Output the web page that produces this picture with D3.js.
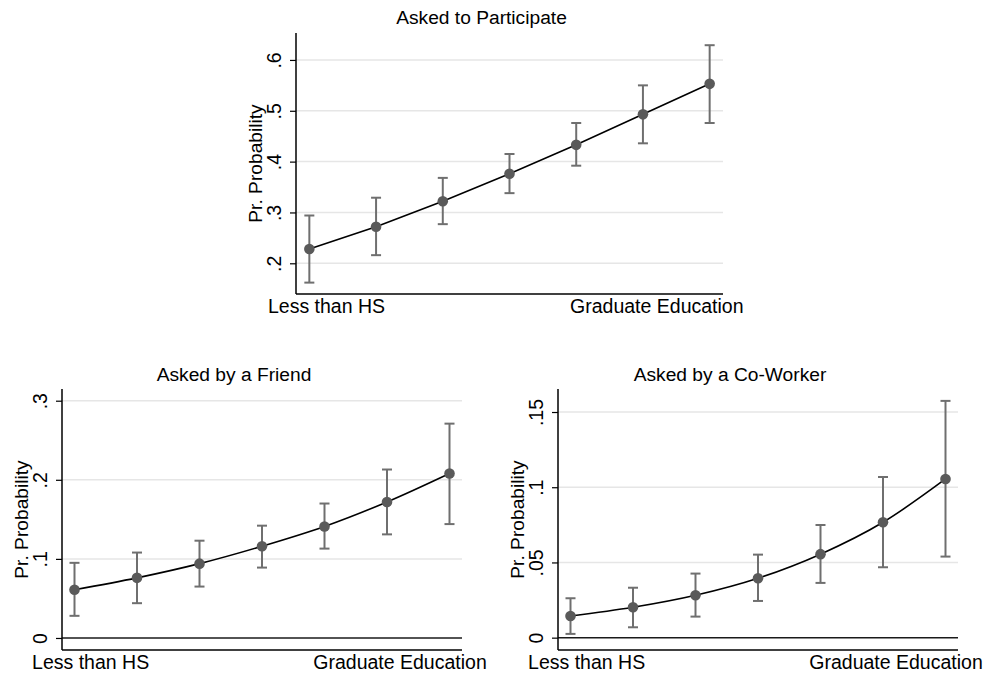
<!DOCTYPE html>
<html lang="en">
<head>
  <meta charset="UTF-8">
  <title>Predicted probability by education</title>
  <style>
    body { margin: 0; background: #ffffff; }
    #thesvg { width: 987px; height: 675px; display: block; }
    text { font-family: "Liberation Sans", Arial, Helvetica, sans-serif; fill: #000; }
  </style>
</head>
<body>
  <svg id="thesvg"></svg>
  <script src="https://d3js.org/d3.v7.min.js"></script>
  <script>

    // education levels (1 = less than HS ... 7 = graduate)
    var levels = [1, 2, 3, 4, 5, 6, 7];
    var xTickValues = [1.25, 6.2];
    var xTickLabels = ["Less than HS", "Graduate Education"];

    var participate   = [0.228, 0.272, 0.322, 0.376, 0.433, 0.493, 0.553];
    var participateLo = [0.162, 0.216, 0.277, 0.338, 0.392, 0.436, 0.476];
    var participateHi = [0.294, 0.329, 0.368, 0.415, 0.476, 0.550, 0.629];
    var participateTicks = [0.2, 0.3, 0.4, 0.5, 0.6];
    var participateTickLabels = [".2", ".3", ".4", ".5", ".6"];

    var friend   = [0.061, 0.076, 0.094, 0.116, 0.141, 0.172, 0.208];
    var friendLo = [0.028, 0.044, 0.065, 0.089, 0.113, 0.131, 0.144];
    var friendHi = [0.095, 0.108, 0.123, 0.142, 0.170, 0.213, 0.271];
    var friendTicks = [0, 0.1, 0.2, 0.3];
    var friendTickLabels = ["0", ".1", ".2", ".3"];

    var coworker   = [0.0144, 0.0202, 0.0282, 0.0395, 0.0555, 0.0767, 0.1055];
    var coworkerLo = [0.0025, 0.0069, 0.0140, 0.0244, 0.0364, 0.0468, 0.0539];
    var coworkerHi = [0.0262, 0.0332, 0.0426, 0.0552, 0.0749, 0.1068, 0.1574];
    var coworkerTicks = [0, 0.05, 0.1, 0.15];
    var coworkerTickLabels = ["0", ".05", ".1", ".15"];

    var svg = d3.select("svg");

    function panel(opt) {
      var x = d3.scaleLinear().domain([0.8, 7.2]).range([opt.left, opt.right]);
      var y = d3.scaleLinear().domain(opt.ydom).range([opt.bottom, opt.top]);
      var g = svg.append("g");

      var rows = levels.map((d, i) => ({ x: d, y: opt.est[i], lo: opt.lo[i], hi: opt.hi[i] }));

      // gridlines (the zero line is drawn dark)
      g.selectAll(".grid")
        .data(opt.ticks)
        .enter()
        .append("line")
        .attr("x1", opt.left).attr("x2", opt.right)
        .attr("y1", d => y(d)).attr("y2", d => y(d))
        .attr("stroke", d => d === 0 ? "#1a1a1a" : "#e6e6e6")
        .attr("stroke-width", 1.5);

      // y axis
      var yAxis = d3.axisLeft(y)
        .tickValues(opt.ticks)
        .tickFormat((d, i) => opt.tickLabels[i])
        .tickSizeInner(6).tickSizeOuter(0);
      var ya = g.append("g").attr("transform", "translate(" + opt.left + ",0)").call(yAxis);
      ya.select(".domain").remove();
      ya.selectAll("line").attr("stroke", "#000").attr("stroke-width", 1.2);
      ya.selectAll("text")
        .attr("font-size", 19.5)
        .attr("text-anchor", "middle")
        .attr("dy", 0)
        .attr("transform", "rotate(-90)")
        .attr("x", 0)
        .attr("y", -15);

      // x axis (labels only)
      var xAxis = d3.axisBottom(x)
        .tickValues(xTickValues)
        .tickFormat((d, i) => xTickLabels[i])
        .tickSize(0);
      var xa = g.append("g").attr("transform", "translate(0," + opt.bottom + ")").call(xAxis);
      xa.select(".domain").remove();
      xa.selectAll("text").attr("font-size", 19.5).attr("dy", 0).attr("y", 19);

      // frame lines
      g.append("line")
        .attr("x1", opt.left).attr("x2", opt.left)
        .attr("y1", opt.top).attr("y2", opt.bottom)
        .attr("stroke", "#000").attr("stroke-width", 1.5);
      g.append("line")
        .attr("x1", opt.left).attr("x2", opt.right)
        .attr("y1", opt.bottom).attr("y2", opt.bottom)
        .attr("stroke", "#000").attr("stroke-width", 1.5);

      // error bars
      var eb = g.selectAll(".eb").data(rows).enter().append("g").attr("stroke", "#6f6f6f").attr("stroke-width", 2);
      eb.append("line")
        .attr("x1", d => x(d.x)).attr("x2", d => x(d.x))
        .attr("y1", d => y(d.lo)).attr("y2", d => y(d.hi));
      eb.append("line")
        .attr("x1", d => x(d.x) - 5).attr("x2", d => x(d.x) + 5)
        .attr("y1", d => y(d.lo)).attr("y2", d => y(d.lo));
      eb.append("line")
        .attr("x1", d => x(d.x) - 5).attr("x2", d => x(d.x) + 5)
        .attr("y1", d => y(d.hi)).attr("y2", d => y(d.hi));

      // connecting line
      var line = d3.line().x(d => x(d.x)).y(d => y(d.y)).curve(opt.curve);
      g.append("path")
        .datum(rows)
        .attr("d", line)
        .attr("fill", "none")
        .attr("stroke", "#000")
        .attr("stroke-width", 1.6);

      // markers
      g.selectAll(".pt")
        .data(rows)
        .enter()
        .append("circle")
        .attr("cx", d => x(d.x)).attr("cy", d => y(d.y))
        .attr("r", 5.3)
        .attr("fill", "#5a5a5a");

      // titles
      var mid = (opt.left + opt.right) / 2;
      g.append("text")
        .attr("x", mid - 28).attr("y", opt.titleY)
        .attr("text-anchor", "middle")
        .attr("font-size", 19.2)
        .text(opt.title);
      g.append("text")
        .attr("transform", "translate(" + (opt.left - 34) + "," + ((opt.top + opt.bottom) / 2) + ") rotate(-90)")
        .attr("text-anchor", "middle")
        .attr("font-size", 19.2)
        .text("Pr. Probability");
    }

    panel({
      title: "Asked to Participate", titleY: 24,
      left: 296, right: 723, top: 33, bottom: 294,
      ydom: [0.1396, 0.653],
      ticks: participateTicks, tickLabels: participateTickLabels,
      est: participate, lo: participateLo, hi: participateHi,
      curve: d3.curveLinear
    });

    panel({
      title: "Asked by a Friend", titleY: 381,
      left: 62, right: 462, top: 389, bottom: 650,
      ydom: [-0.0152, 0.3148],
      ticks: friendTicks, tickLabels: friendTickLabels,
      est: friend, lo: friendLo, hi: friendHi,
      curve: d3.curveMonotoneX
    });

    panel({
      title: "Asked by a Co-Worker", titleY: 381,
      left: 558, right: 958, top: 389, bottom: 650,
      ydom: [-0.0082, 0.1653],
      ticks: coworkerTicks, tickLabels: coworkerTickLabels,
      est: coworker, lo: coworkerLo, hi: coworkerHi,
      curve: d3.curveMonotoneX
    });
  </script>
</body>
</html>
